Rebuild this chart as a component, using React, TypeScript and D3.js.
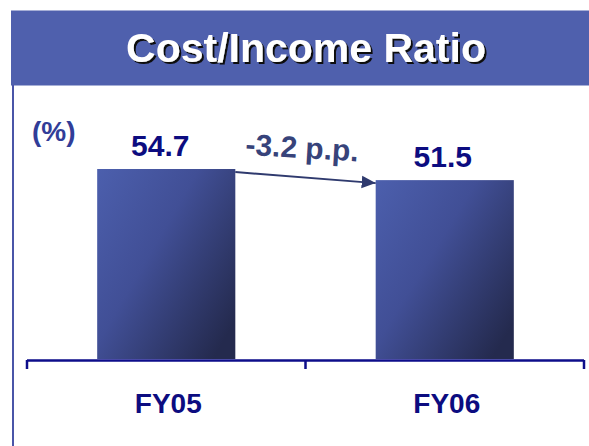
import React, { useEffect, useRef } from 'react'
import * as d3 from 'd3'

const categories = ['FY05', 'FY06']
const ratioValues = [54.7, 51.5]
const valueLabels = ['54.7', '51.5']
const changeLabel = '-3.2 p.p.'
const unitLabel = '(%)'
const title = 'Cost/Income Ratio'

const W = 589
const H = 446

export default function App() {
  const ref = useRef<SVGSVGElement>(null)

  useEffect(() => {
    const svg = d3.select(ref.current)
    svg.selectAll('*').remove()

    var x = d3.scaleBand().domain(categories).range([27, 584]).padding(0)
    var y = d3.scaleLinear().domain([0, 60]).range([359, 150.6])
    var barW = x.bandwidth() * 0.496
    var barX = (c: string) => x(c)! + (x.bandwidth() - barW) / 2

    var defs = svg.append('defs')
    var grad = defs.append('linearGradient')
      .attr('id', 'barGrad')
      .attr('x1', 0).attr('y1', 0).attr('x2', 1).attr('y2', 0.8)
    grad.append('stop').attr('offset', '0%').attr('stop-color', '#4c5fad')
    grad.append('stop').attr('offset', '45%').attr('stop-color', '#414f96')
    grad.append('stop').attr('offset', '100%').attr('stop-color', '#242a4e')

    // drop shadow for the title
    defs.append('filter')
      .attr('id', 'shadow')
      .attr('x', '-5%').attr('y', '-20%').attr('width', '110%').attr('height', '140%')
      .append('feDropShadow')
      .attr('dx', 2).attr('dy', 2).attr('stdDeviation', 0.4)
      .attr('flood-color', '#111').attr('flood-opacity', 1)

    defs.append('marker')
      .attr('id', 'arrowHead')
      .attr('viewBox', '0 0 10 10')
      .attr('refX', 10).attr('refY', 5)
      .attr('markerWidth', 7).attr('markerHeight', 7)
      .attr('markerUnits', 'strokeWidth')
      .attr('orient', 'auto')
      .append('path')
      .attr('d', 'M0,0.5 L10,5 L0,9.5 Z')
      .attr('fill', '#2f3a6e')

    // background
    svg.append('rect').attr('width', W).attr('height', H).attr('fill', '#fff')

    // title banner
    svg.append('rect')
      .attr('x', 11).attr('y', 10.5)
      .attr('width', W - 11).attr('height', 75)
      .attr('fill', '#4f60ad')

    svg.append('line')
      .attr('x1', 13).attr('x2', 13)
      .attr('y1', 85).attr('y2', H)
      .attr('stroke', '#4a55a8').attr('stroke-width', 2)

    svg.append('text')
      .attr('x', 306).attr('y', 62)
      .attr('text-anchor', 'middle')
      .attr('font-family', 'Liberation Sans, Arial, sans-serif')
      .attr('font-weight', 'bold').attr('font-size', 41)
      .attr('fill', '#fff')
      .attr('filter', 'url(#shadow)')
      .text(title)

    // unit label
    svg.append('text')
      .attr('x', 32).attr('y', 141)
      .attr('font-family', 'Liberation Sans, Arial, sans-serif')
      .attr('font-weight', 'bold').attr('font-size', 28)
      .attr('fill', '#313d98')
      .text(unitLabel)

    // bars
    svg.append('g').selectAll('rect')
      .data(ratioValues).enter().append('rect')
      .attr('x', (d, i) => barX(categories[i]))
      .attr('y', d => y(d))
      .attr('width', barW)
      .attr('height', d => y(0) - y(d))
      .attr('fill', 'url(#barGrad)')

    // value labels
    svg.append('g').selectAll('text')
      .data(ratioValues).enter().append('text')
      .attr('x', (d, i) => barX(categories[i]) + barW / 2 - (i === 0 ? 6 : 2))
      .attr('y', d => y(d) - 13)
      .attr('text-anchor', 'middle')
      .attr('font-family', 'Liberation Sans, Arial, sans-serif')
      .attr('font-weight', 'bold').attr('font-size', 30)
      .attr('fill', '#0c0c80')
      .text((d, i) => valueLabels[i])

    // change arrow
    var x0 = barX(categories[0]) + barW
    var y0 = y(ratioValues[0]) + 3
    var x1 = barX(categories[1])
    var y1 = y(ratioValues[1]) + 3
    svg.append('path')
      .attr('d', d3.line()([[x0, y0], [x1, y1]]))
      .attr('stroke', '#2f3a6e').attr('stroke-width', 2)
      .attr('fill', 'none')
      .attr('marker-end', 'url(#arrowHead)')

    var ang = Math.atan2(y1 - y0, x1 - x0) * 180 / Math.PI
    svg.append('text')
      .attr('transform', `translate(${(x0 + x1) / 2 - 4},${y0 - 14}) rotate(${ang - 1})`)
      .attr('text-anchor', 'middle')
      .attr('font-family', 'Liberation Sans, Arial, sans-serif')
      .attr('font-weight', 'bold').attr('font-size', 30)
      .attr('fill', '#37437a')
      .text(changeLabel)

    // axis
    var axis = svg.append('g').attr('stroke', '#0d0d8a').attr('stroke-width', 2.5)
    axis.append('line').attr('x1', 27).attr('x2', 584).attr('y1', 360.5).attr('y2', 360.5)
    var ticks = [x(categories[0])!, x(categories[1])!, x(categories[1])! + x.bandwidth()]
    axis.selectAll('.tick').data(ticks).enter().append('line')
      .attr('x1', d => d).attr('x2', d => d)
      .attr('y1', 360).attr('y2', 369)

    svg.append('g').selectAll('text')
      .data(categories).enter().append('text')
      .attr('x', d => x(d)! + x.bandwidth() / 2 + 2)
      .attr('y', 413)
      .attr('text-anchor', 'middle')
      .attr('font-family', 'Liberation Sans, Arial, sans-serif')
      .attr('font-weight', 'bold').attr('font-size', 28)
      .attr('fill', '#0c0c80')
      .text(d => d)
  }, [])

  return (
    <svg ref={ref} width={W} height={H}
      style={{ position: 'absolute', left: 0, top: 0, display: 'block' }} />
  )
}
